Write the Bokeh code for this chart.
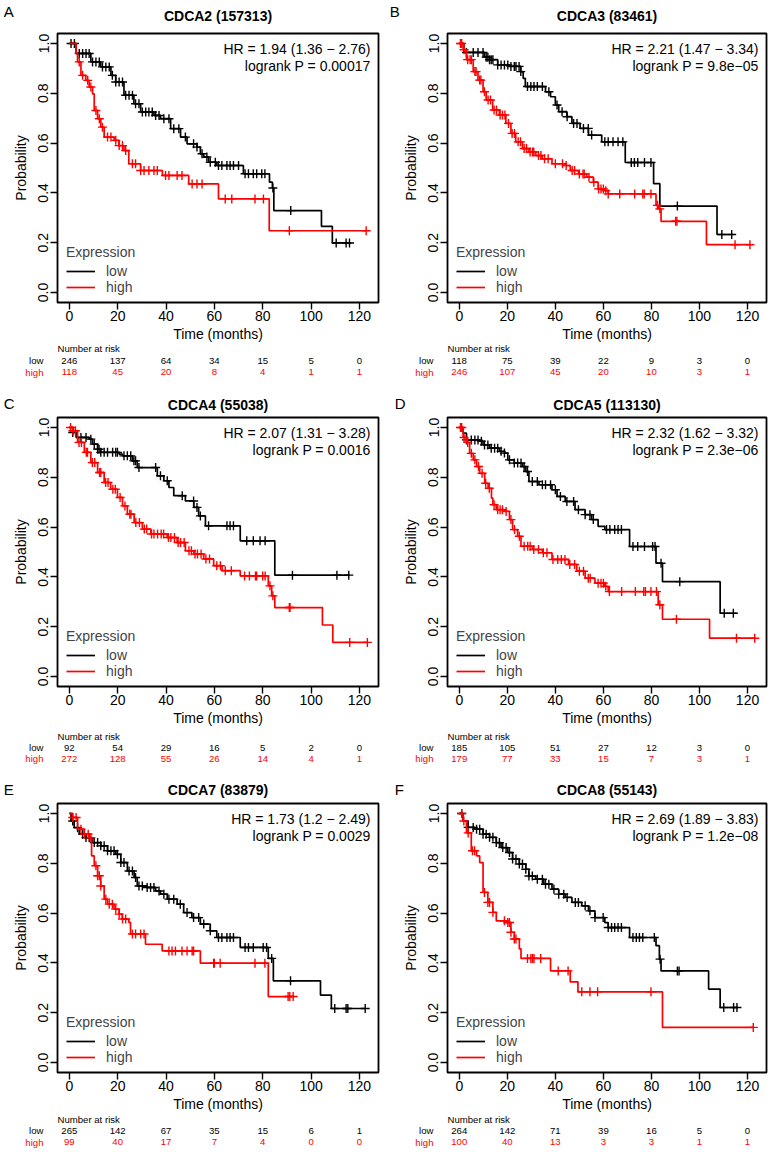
import numpy as np
from bokeh.plotting import figure
from bokeh.layouts import column, row
from bokeh.models import (Range1d, FixedTicker, PrintfTickFormatter, Label,
                          Legend, LegendItem, Plot)
from bokeh.core.properties import value
from bokeh.embed import file_html
from bokeh.resources import INLINE

FONT = "Liberation Sans"
RED = "#ff0000"
BLACK = "#000000"

risk_times = [0, 20, 40, 60, 80, 100, 120]
y_ticks = [0.0, 0.2, 0.4, 0.6, 0.8, 1.0]

# ---------------- Panel A ----------------
A_title = "CDCA2 (157313)"
A_hr = "HR = 1.94 (1.36 \u2212 2.76)"
A_p = "logrank P = 0.00017"
A_low_t = [0, 2.8, 8.9, 13, 17.2, 19.2, 22.6, 26.7, 29.5, 35, 37.7, 41.9, 46, 48.7, 52.8, 54.2, 55.6, 57.6, 61, 72, 82.8, 84, 84.6, 104.3, 108.8, 116.6]
A_low_s = [1.0, 0.96, 0.926, 0.906, 0.872, 0.845, 0.792, 0.758, 0.725, 0.711, 0.698, 0.658, 0.624, 0.597, 0.584, 0.557, 0.544, 0.523, 0.51, 0.477, 0.443, 0.42, 0.329, 0.266, 0.199, 0.199]
A_low_c = [0.7, 2.1, 4.1, 5.5, 6.9, 8.2, 9.6, 11, 12.4, 13.7, 15.1, 16.5, 17.8, 19.2, 20.6, 22, 23.3, 24.7, 26.1, 27.4, 28.8, 30.2, 31.6, 32.9, 34.3, 35.7, 37.1, 39.1, 41.2, 43.2, 45.3, 48, 51.4, 52.8, 54.9, 56.9, 58.3, 60.4, 61.7, 63.1, 65.2, 66.5, 67.9, 70, 72.7, 74.1, 76.1, 77.5, 79.6, 80.9, 84.2, 91.6, 110.4, 114.5, 115.9]
A_high_t = [0, 2.8, 3.4, 4.8, 6.8, 8.2, 9.6, 10.3, 11.7, 13, 14.4, 18.5, 20.5, 22.6, 24.6, 29.5, 38.5, 49.4, 61.7, 82.7, 122.8]
A_high_s = [1.0, 0.96, 0.926, 0.872, 0.852, 0.825, 0.798, 0.731, 0.698, 0.664, 0.624, 0.611, 0.59, 0.57, 0.517, 0.49, 0.47, 0.436, 0.376, 0.248, 0.248]
A_high_c = [4.1, 5.5, 7.6, 8.9, 11, 12.4, 13.7, 15.8, 17.2, 19.2, 20.6, 22, 23.3, 26.1, 27.4, 29.5, 30.9, 32.9, 35, 36.4, 39.8, 41.2, 44.6, 46.6, 50.8, 52.8, 54.9, 64.5, 67.2, 76.8, 80.3, 91, 122.8]
A_risk_low = [246, 137, 64, 34, 15, 5, 0]
A_risk_high = [118, 45, 20, 8, 4, 1, 1]

# ---------------- Panel B ----------------
B_title = "CDCA3 (83461)"
B_hr = "HR = 2.21 (1.47 \u2212 3.34)"
B_p = "logrank P = 9.8e\u221205"
B_low_t = [0, 1.9, 10.5, 12.6, 16, 20.8, 25.6, 26.6, 27.5, 35.9, 38, 40, 41.4, 44.8, 46.9, 50.3, 53.8, 59.3, 69.1, 80.9, 83.5, 107.3, 114.1]
B_low_s = [1.0, 0.964, 0.945, 0.935, 0.914, 0.908, 0.887, 0.86, 0.827, 0.806, 0.786, 0.753, 0.726, 0.706, 0.679, 0.659, 0.632, 0.605, 0.522, 0.437, 0.347, 0.233, 0.233]
B_low_c = [3, 5.8, 7.8, 9.9, 11.2, 11.9, 12.6, 13.3, 14, 16, 17.4, 18.8, 20.2, 21.5, 22.9, 23.6, 24.9, 25.6, 28.4, 29.8, 31.1, 32.5, 34.6, 37.3, 40.7, 42.8, 44.9, 47.6, 49, 51.7, 53.7, 55.1, 60.6, 62, 64, 66.1, 68.1, 71.6, 72.9, 74.3, 77.1, 79.8, 90.8, 109.3, 113.4]
B_high_t = [0, 1.6, 3, 5.8, 7.8, 9.9, 11.2, 13.9, 16.7, 19.4, 21.5, 23.5, 26.3, 29, 31.8, 34.5, 38.6, 44.1, 46.2, 49.6, 53, 55.8, 57.8, 60.6, 62, 81.9, 83, 84, 102.9, 121]
B_high_s = [1.0, 0.975, 0.935, 0.887, 0.853, 0.806, 0.773, 0.733, 0.713, 0.679, 0.639, 0.605, 0.578, 0.564, 0.55, 0.537, 0.517, 0.51, 0.49, 0.476, 0.463, 0.443, 0.416, 0.409, 0.396, 0.35, 0.336, 0.286, 0.192, 0.192]
B_high_c = [0.5, 1, 2, 3.5, 4.5, 5, 6.5, 7, 8.5, 9, 10.5, 12, 13, 14.5, 15.5, 17, 18, 19, 20.5, 22, 23, 24.5, 25.5, 27, 28, 29.5, 30.5, 31, 33, 34, 35.5, 37, 40, 43, 44.5, 47, 48, 50, 51.5, 52, 54, 56, 58, 59, 60, 61, 62, 66.8, 73, 76.4, 77, 79.8, 82.5, 83.5, 90.1, 90.6, 114.8, 121]
B_risk_low = [118, 75, 39, 22, 9, 3, 0]
B_risk_high = [246, 107, 45, 20, 10, 3, 1]

# ---------------- Panel C ----------------
C_title = "CDCA4 (55038)"
C_hr = "HR = 2.07 (1.31 \u2212 3.28)"
C_p = "logrank P = 0.0016"
C_low_t = [0, 1.4, 2.8, 8.2, 9.6, 11.7, 13, 20.6, 22, 26.1, 28.1, 36.4, 39.1, 41.2, 43.2, 48, 51.5, 53.5, 56.3, 70.7, 85, 115.9]
C_low_s = [1.0, 0.98, 0.96, 0.953, 0.933, 0.913, 0.9, 0.893, 0.886, 0.866, 0.839, 0.806, 0.786, 0.759, 0.726, 0.705, 0.679, 0.645, 0.605, 0.545, 0.407, 0.407]
C_low_c = [1.4, 4.8, 6.9, 8.9, 10.3, 11.7, 12.3, 13, 14.4, 15.8, 17.9, 19.2, 19.9, 22.6, 24, 25.4, 26.7, 27.4, 28.8, 35.7, 37.7, 40.5, 46.7, 51.4, 52.8, 54.2, 57.6, 65.2, 66.5, 67.9, 73.4, 76.1, 78.9, 81, 92.3, 110.7, 115.6]
C_high_t = [0, 1.4, 3.4, 6.2, 8.9, 11.7, 14.4, 17.1, 19.9, 22, 24, 26.8, 30.2, 33.7, 40.5, 44.6, 48, 51.5, 55.6, 59.7, 63.2, 70.7, 82.3, 83.7, 85, 104.7, 109, 123.3]
C_high_s = [1.0, 0.987, 0.94, 0.9, 0.859, 0.819, 0.779, 0.752, 0.719, 0.685, 0.652, 0.618, 0.592, 0.572, 0.558, 0.538, 0.505, 0.492, 0.472, 0.445, 0.425, 0.404, 0.364, 0.324, 0.277, 0.207, 0.137, 0.137]
C_high_c = [0.5, 1.5, 2.5, 4, 5, 7, 7.5, 9.5, 10.5, 12.5, 13, 15, 16, 18, 19, 21, 23, 25, 25.5, 27.5, 29, 31, 32, 34, 35, 36.5, 38, 39, 41, 42, 43.5, 45, 46, 47.5, 49.5, 50.5, 52, 53, 54.5, 56.5, 58, 61, 62.5, 64.5, 67, 72.5, 74.5, 77, 77.5, 80, 81, 83, 84.2, 91, 91.3, 116, 123.3]
C_risk_low = [92, 54, 29, 16, 5, 2, 0]
C_risk_high = [272, 128, 55, 26, 14, 4, 1]

# ---------------- Panel D ----------------
D_title = "CDCA5 (113130)"
D_hr = "HR = 2.32 (1.62 \u2212 3.32)"
D_p = "logrank P = 2.3e\u221206"
D_low_t = [0, 1.6, 3, 8.5, 9.9, 12.6, 16.7, 18.8, 20.2, 22.9, 26.3, 27.7, 29, 33.2, 38.6, 40.7, 44.1, 48.2, 52.4, 55.1, 57.8, 60.6, 70.9, 81.9, 84.6, 108.6, 115.5]
D_low_s = [1.0, 0.977, 0.95, 0.945, 0.93, 0.917, 0.904, 0.897, 0.87, 0.857, 0.843, 0.823, 0.783, 0.77, 0.75, 0.723, 0.703, 0.67, 0.65, 0.63, 0.603, 0.59, 0.522, 0.455, 0.381, 0.254, 0.254]
D_low_c = [3, 5, 6.5, 7.8, 9.2, 10.5, 11.9, 13.3, 14.7, 16, 17.4, 18.8, 20.9, 22.9, 24.3, 25.7, 27, 28.4, 30.4, 32.5, 34.6, 35.9, 38, 40, 42.1, 44.8, 47.6, 49.6, 52.4, 54.4, 55.8, 61.3, 62.7, 64.7, 66.1, 67.5, 72.3, 74.3, 77.1, 80.5, 81.5, 84, 91.8, 110.3, 114.1]
D_high_t = [0, 1.6, 3, 4.3, 5.8, 7.2, 8.5, 10.6, 12, 13.4, 14, 15.4, 18.8, 20.9, 22.2, 24.3, 25.7, 30.5, 34.6, 38.6, 45.5, 48.9, 52.4, 56.5, 60.6, 62, 82.8, 84.6, 104.2, 123]
D_high_s = [1.0, 0.96, 0.94, 0.896, 0.87, 0.843, 0.816, 0.776, 0.756, 0.716, 0.69, 0.67, 0.663, 0.63, 0.59, 0.563, 0.523, 0.51, 0.497, 0.47, 0.45, 0.423, 0.395, 0.375, 0.362, 0.341, 0.288, 0.23, 0.154, 0.154]
D_high_c = [0.5, 1, 2, 3.5, 5, 6.5, 8, 9.5, 11, 12.5, 14.5, 16, 17, 18, 19.5, 21.5, 23, 25, 27, 28.5, 29.5, 31, 33, 35, 36.5, 39, 41, 42.5, 44, 46, 48, 50, 51.7, 53.7, 54.5, 57.8, 59, 60, 61, 62.5, 67.6, 73.3, 76.8, 77.5, 79.8, 82.1, 83.5, 90.4, 115.4, 123]
D_risk_low = [185, 105, 51, 27, 12, 3, 0]
D_risk_high = [179, 77, 33, 15, 7, 3, 1]

# ---------------- Panel E ----------------
E_title = "CDCA7 (83879)"
E_hr = "HR = 1.73 (1.2 \u2212 2.49)"
E_p = "logrank P = 0.0029"
E_low_t = [0, 0.7, 2, 4.1, 6.9, 9.6, 13, 15.8, 19.2, 21.3, 24, 26.8, 28.1, 32.2, 35.7, 37.7, 40.5, 44.6, 47.3, 50.7, 54.2, 58.3, 61, 70.7, 82.3, 84.4, 103.9, 108.4, 122.4]
E_low_s = [1.0, 0.97, 0.943, 0.917, 0.903, 0.883, 0.87, 0.85, 0.836, 0.803, 0.769, 0.743, 0.709, 0.703, 0.689, 0.676, 0.656, 0.636, 0.602, 0.582, 0.556, 0.529, 0.502, 0.462, 0.418, 0.328, 0.271, 0.217, 0.217]
E_low_c = [1.4, 3.4, 5.5, 6.9, 8.2, 10.3, 11.7, 13, 14.4, 15.8, 17.2, 18.5, 19.9, 21.3, 22.6, 24.7, 26.1, 27.4, 28.8, 30.2, 32.2, 33.6, 35, 37.1, 39.1, 41.2, 43.2, 45.9, 48.7, 51.4, 53.5, 55.6, 58.3, 61.7, 63.1, 65.2, 66.5, 67.9, 72.7, 74.1, 76.1, 80.2, 81.6, 83.7, 91.5, 109.8, 114.5, 115.2, 122.4]
E_high_t = [0, 1.4, 3.4, 6.2, 8.2, 9.2, 10.3, 11.7, 13, 14.4, 15.8, 18.5, 20.6, 21.9, 24.6, 25.3, 31.5, 38.4, 54.2, 82.3, 92.6]
E_high_s = [1.0, 0.984, 0.937, 0.917, 0.903, 0.83, 0.79, 0.75, 0.709, 0.656, 0.636, 0.616, 0.596, 0.576, 0.563, 0.516, 0.475, 0.448, 0.399, 0.265, 0.265]
E_high_c = [1.4, 2.8, 4.8, 6.2, 7.8, 8.9, 11, 11.7, 12.4, 13, 15.1, 16.5, 17.8, 19.2, 20.6, 22, 23.3, 26.1, 27.4, 29.5, 30.9, 41.2, 42.5, 43.9, 46.6, 48.7, 50.8, 51.4, 59.7, 60, 62.4, 76.8, 80.9, 90.5, 91.2, 92.6]
E_risk_low = [265, 142, 67, 35, 15, 6, 1]
E_risk_high = [99, 40, 17, 7, 4, 0, 0]

# ---------------- Panel F ----------------
F_title = "CDCA8 (55143)"
F_hr = "HR = 2.69 (1.89 \u2212 3.83)"
F_p = "logrank P = 1.2e\u221208"
F_low_t = [0, 1.6, 3.7, 6.4, 9.9, 12.6, 15.4, 17.4, 20.2, 22.2, 25, 27.7, 29, 31.8, 35.2, 38.6, 41.4, 44.1, 46.9, 51, 53.8, 56.5, 60.6, 62, 70.9, 81.9, 83.3, 84, 103.8, 108.6, 116]
F_low_s = [1.0, 0.97, 0.944, 0.937, 0.917, 0.904, 0.883, 0.863, 0.843, 0.817, 0.797, 0.776, 0.749, 0.736, 0.716, 0.696, 0.676, 0.663, 0.643, 0.629, 0.609, 0.582, 0.562, 0.542, 0.502, 0.469, 0.415, 0.368, 0.295, 0.221, 0.221]
F_low_c = [1, 3.7, 5.8, 7.2, 8.5, 9.9, 11.2, 12.6, 14, 15.4, 16.7, 18.1, 19.5, 20.9, 22.2, 23.6, 25, 26.3, 27.7, 29, 30.4, 32.5, 34.6, 35.9, 37.3, 39.4, 41.4, 43.5, 44.9, 48.3, 49.6, 52.4, 54.4, 56.5, 59.9, 62, 63.4, 64.7, 66.1, 67.5, 72.3, 73.7, 75, 76.4, 81.2, 83.6, 90.8, 91.5, 110.1, 114.2, 115.6]
F_high_t = [0, 1.6, 3, 5, 7.2, 8.5, 9.9, 11.9, 14, 15.4, 19.5, 21.5, 22.9, 25, 25.7, 38, 46.2, 49.4, 84.6, 122.4]
F_high_s = [1.0, 0.97, 0.922, 0.85, 0.83, 0.803, 0.683, 0.643, 0.603, 0.569, 0.562, 0.523, 0.496, 0.456, 0.418, 0.368, 0.324, 0.284, 0.141, 0.141]
F_high_c = [1, 1.9, 3.7, 5.5, 6.4, 10.5, 11.9, 12.6, 14, 18.8, 20.2, 20.9, 21.5, 22.9, 23.6, 28.4, 29.8, 30.5, 31.1, 33.9, 41.2, 45.3, 51, 54.4, 57.6, 79.8, 122.4]
F_risk_low = [264, 142, 71, 39, 16, 5, 0]
F_risk_high = [100, 40, 13, 3, 3, 1, 1]

# ---------------- layout geometry (pixels) ----------------
X0, X1 = -4.9, 127.9
Y0, Y1 = -0.04, 1.04
FRAME_H = 269
MAIN_TOP, MAIN_BOTTOM = 2, 42
COLS = [dict(width=388, bl=57, br=10), dict(width=384, bl=59, br=6)]
ROWS = [dict(head=31, table=38, title_y=15.3, letter_y=10.5, tab_y=(4.3, 16.0, 27.7)),
        dict(head=33, table=40, title_y=22.0, letter_y=21.0, tab_y=(7.7, 19.0, 30.3)),
        dict(head=33, table=37, title_y=21.3, letter_y=20.5, tab_y=(4.7, 16.0, 27.7))]
LETTER_DX = {"A": 3.3, "B": 1.3, "C": 3.3, "D": 6.3, "E": 3.3, "F": 6.3}

NO_ALIGN = {"frame_align": False} if "frame_align" in Plot.properties() else {}


def censor_y(t, s, c):
    t = np.asarray(t, dtype=float)
    s = np.asarray(s, dtype=float)
    idx = np.searchsorted(t, np.asarray(c, dtype=float), side="right") - 1
    return s[np.clip(idx, 0, len(s) - 1)]


def strip(cg, h):
    """Axis-less figure whose frame fills its canvas, with the same x scale as the KM frame."""
    fw = cg["width"] - cg["bl"] - cg["br"]
    scale = fw / (X1 - X0)
    xl, xr = X0 - cg["bl"] / scale, X1 + cg["br"] / scale
    f = figure(width=cg["width"], height=h, x_range=Range1d(xl, xr), y_range=Range1d(h, 0),
               x_axis_type=None, y_axis_type=None, toolbar_location=None,
               output_backend="svg", min_border=0, **NO_ALIGN)
    f.outline_line_color = None
    f.background_fill_color = "white"
    f.border_fill_color = "white"
    return f, scale, xl


def make_panel(letter, title, hr, pval, low_t, low_s, low_c, high_t, high_s, high_c,
               risk_low, risk_high, col, rw):
    cg, rg = COLS[col], ROWS[rw]
    fw = cg["width"] - cg["bl"] - cg["br"]

    # --- header: panel letter + gene title
    head, scale, xl = strip(cg, rg["head"])
    head.text(x=[(X0 + X1) / 2], y=[rg["title_y"]], text=[title], text_align="center",
              text_baseline="middle", text_font=value(FONT), text_font_size=value("14px"),
              text_font_style=value("bold"), text_color=BLACK)
    head.text(x=[xl + LETTER_DX[letter] / scale], y=[rg["letter_y"]], text=[letter],
              text_align="left", text_baseline="middle", text_font=value(FONT),
              text_font_size=value("15px"), text_color=BLACK)

    # --- main KM plot
    p = figure(width=cg["width"], height=FRAME_H + MAIN_TOP + MAIN_BOTTOM,
               x_range=Range1d(X0, X1), y_range=Range1d(Y0, Y1),
               output_backend="svg", toolbar_location=None,
               min_border_left=cg["bl"], min_border_right=cg["br"],
               min_border_top=MAIN_TOP, min_border_bottom=MAIN_BOTTOM, **NO_ALIGN)
    p.xgrid.visible = False
    p.ygrid.visible = False
    p.outline_line_color = BLACK
    p.outline_line_width = 1.8
    p.background_fill_color = "white"
    p.border_fill_color = "white"

    for ax in (p.xaxis[0], p.yaxis[0]):
        ax.axis_line_color = None
        ax.major_tick_out = 7
        ax.major_tick_in = 0
        ax.minor_tick_out = 0
        ax.minor_tick_in = 0
        ax.major_tick_line_color = BLACK
        ax.major_tick_line_width = 1.4
        ax.major_label_text_font = FONT
        ax.major_label_text_font_size = "14px"
        ax.major_label_text_color = BLACK
        ax.axis_label_text_font = FONT
        ax.axis_label_text_font_size = "14px"
        ax.axis_label_text_font_style = "normal"
        ax.axis_label_text_color = BLACK
    p.xaxis.ticker = FixedTicker(ticks=risk_times)
    p.yaxis.ticker = FixedTicker(ticks=y_ticks)
    p.yaxis.formatter = PrintfTickFormatter(format="%.1f")
    p.yaxis.major_label_orientation = "vertical"
    p.xaxis.axis_label = "Time (months)"
    p.yaxis.axis_label = "Probability"
    p.xaxis.major_label_standoff = 1
    p.xaxis.axis_label_standoff = 2
    p.yaxis.major_label_standoff = 2
    p.yaxis.axis_label_standoff = 7

    r_low = p.step(low_t, low_s, mode="after", line_color=BLACK, line_width=1.7)
    p.scatter(low_c, censor_y(low_t, low_s, low_c), marker="cross", size=9,
              line_color=BLACK, line_width=1.4)
    r_high = p.step(high_t, high_s, mode="after", line_color=RED, line_width=1.7)
    p.scatter(high_c, censor_y(high_t, high_s, high_c), marker="cross", size=9,
              line_color=RED, line_width=1.4)

    leg = Legend(items=[LegendItem(label="low", renderers=[r_low]),
                        LegendItem(label="high", renderers=[r_high])],
                 title="Expression", location=(9, 7), orientation="vertical",
                 border_line_color=None, background_fill_alpha=0,
                 padding=0, margin=0, spacing=0,
                 glyph_width=29, glyph_height=16, label_height=16, label_standoff=11,
                 label_text_font=FONT, label_text_font_size="14px",
                 title_text_font=FONT, title_text_font_size="14px",
                 title_text_font_style="normal", title_standoff=3)
    p.add_layout(leg)

    for txt, yy in ((hr, FRAME_H - 15), (pval, FRAME_H - 32)):
        p.add_layout(Label(x=fw - 8, y=yy, x_units="screen", y_units="screen", text=txt,
                           text_align="right", text_baseline="middle",
                           text_font=FONT, text_font_size="14px", text_color=BLACK))

    # --- number-at-risk table
    tab, scale, xl = strip(cg, rg["table"])
    y_head, y_low, y_high = rg["tab_y"]
    tab.text(x=[X0], y=[y_head], text=["Number at risk"], text_align="left",
             text_baseline="middle", text_font=value(FONT), text_font_size=value("9.6px"),
             text_color=BLACK)
    tab.text(x=[X0 - 14 / scale] * 2, y=[y_low, y_high], text=["low", "high"],
             text_align="right", text_baseline="middle", text_font=value(FONT),
             text_font_size=value("9.6px"), text_color=[BLACK, RED])
    tab.text(x=risk_times, y=[y_low] * len(risk_times), text=[str(v) for v in risk_low],
             text_align="center", text_baseline="middle", text_font=value(FONT),
             text_font_size=value("9.6px"), text_color=BLACK)
    tab.text(x=risk_times, y=[y_high] * len(risk_times), text=[str(v) for v in risk_high],
             text_align="center", text_baseline="middle", text_font=value(FONT),
             text_font_size=value("9.6px"), text_color=RED)

    return column(head, p, tab, spacing=0)


pA = make_panel("A", A_title, A_hr, A_p, A_low_t, A_low_s, A_low_c, A_high_t, A_high_s, A_high_c, A_risk_low, A_risk_high, 0, 0)
pB = make_panel("B", B_title, B_hr, B_p, B_low_t, B_low_s, B_low_c, B_high_t, B_high_s, B_high_c, B_risk_low, B_risk_high, 1, 0)
pC = make_panel("C", C_title, C_hr, C_p, C_low_t, C_low_s, C_low_c, C_high_t, C_high_s, C_high_c, C_risk_low, C_risk_high, 0, 1)
pD = make_panel("D", D_title, D_hr, D_p, D_low_t, D_low_s, D_low_c, D_high_t, D_high_s, D_high_c, D_risk_low, D_risk_high, 1, 1)
pE = make_panel("E", E_title, E_hr, E_p, E_low_t, E_low_s, E_low_c, E_high_t, E_high_s, E_high_c, E_risk_low, E_risk_high, 0, 2)
pF = make_panel("F", F_title, F_hr, F_p, F_low_t, F_low_s, F_low_c, F_high_t, F_high_s, F_high_c, F_risk_low, F_risk_high, 1, 2)

layout = column(row(pA, pB, spacing=0), row(pC, pD, spacing=0), row(pE, pF, spacing=0), spacing=0)

open("out.html", "w").write(file_html(layout, INLINE))
